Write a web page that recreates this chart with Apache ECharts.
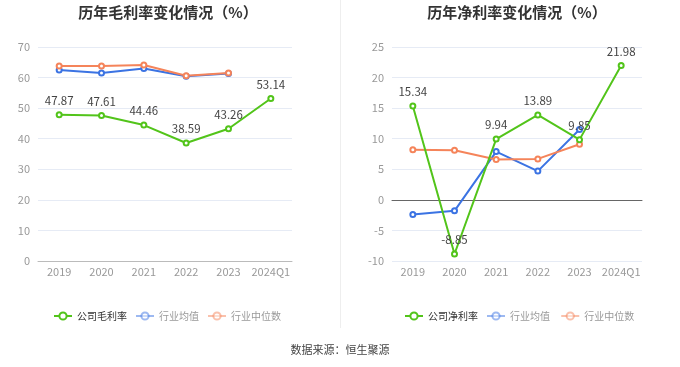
<!DOCTYPE html>
<html><head><meta charset="utf-8">
<script src="https://cdn.jsdelivr.net/npm/echarts@6/dist/echarts.min.js"></script>
<style>html,body{margin:0;padding:0;background:#fff}#c{width:680px;height:367px}</style>
</head><body><div id="c"></div>
<script>
var categories = ['2019','2020','2021','2022','2023','2024Q1'];
var grossCompany = [47.87, 47.61, 44.46, 38.59, 43.26, 53.14];
var grossIndustryAvg = [62.5, 61.5, 63.0, 60.4, 61.3, null];
var grossIndustryMedian = [63.8, 63.8, 64.1, 60.6, 61.5, null];
var netCompany = [15.34, -8.85, 9.94, 13.89, 9.85, 21.98];
var netIndustryAvg = [-2.4, -1.8, 7.9, 4.7, 11.5, null];
var netIndustryMedian = [8.2, 8.1, 6.6, 6.7, 9.1, null];

var GREEN = '#52c41a', BLUE = '#3b73e3', ORANGE = '#f5845a';
var font = 'Noto Sans CJK SC';
var chart = echarts.init(document.getElementById('c'));
function xAxis(idx){
  return {type:'category', gridIndex:idx, data:categories, boundaryGap:true,
    axisLine:{onZero:true, lineStyle:{color: idx===0 ? '#bbb' : '#666'}},
    axisTick:{alignWithLabel:true, lineStyle:{color:'#999'}},
    axisLabel:{color:'#999', fontSize:11, fontFamily:font, margin:5, interval:0}};
}
function yAxis(idx, min, max, interval){
  return {type:'value', gridIndex:idx, min:min, max:max, interval:interval,
    axisLine:{show:false}, axisTick:{show:false},
    axisLabel:{color:'#999', fontSize:11, fontFamily:font},
    splitLine:{lineStyle:{color:'#e6ebf5'}}};
}
function line(name, data, color, idx, showLabel){
  return {name:name, type:'line', xAxisIndex:idx, yAxisIndex:idx, data:data,
    symbol:'emptyCircle', symbolSize:5, lineStyle:{width:2, color:color},
    itemStyle:{color:color, borderWidth:1.5},
    label:{show:showLabel, position:'top', distance:5, color:'#444', fontSize:11.5, fontFamily:font},
    z: showLabel ? 3 : 2};
}
function legendItems(first, suffix){
  return [
    {name:first, textStyle:{color:'#333'}},
    {name:'行业均值'+suffix, itemStyle:{opacity:0.5}, lineStyle:{opacity:0.5}},
    {name:'行业中位数'+suffix, itemStyle:{opacity:0.5}, lineStyle:{opacity:0.5}}
  ];
}
var legendBase = {top:306, itemWidth:18, itemHeight:9, itemGap:8,
  textStyle:{fontSize:10, fontFamily:font, color:'#999'}};
chart.setOption({
  animation:false,
  title:[
    {text:'历年毛利率变化情况（%）', left:163, top:0, textAlign:'center', textStyle:{fontSize:15, fontWeight:'bold', color:'#333', fontFamily:font}},
    {text:'历年净利率变化情况（%）', left:512, top:0, textAlign:'center', textStyle:{fontSize:15, fontWeight:'bold', color:'#333', fontFamily:font}}
  ],
  legend:[
    Object.assign({data:legendItems('公司毛利率',''), left:48}, legendBase),
    Object.assign({data:legendItems('公司净利率',' '), left:399}, legendBase)
  ],
  grid:[
    {left:38, top:47, width:254, height:214},
    {left:392, top:47, width:250, height:214}
  ],
  xAxis:[xAxis(0), xAxis(1)],
  yAxis:[yAxis(0,0,70,10), yAxis(1,-10,25,5)],
  series:[
    line('公司毛利率', grossCompany, GREEN, 0, true),
    line('行业均值', grossIndustryAvg, BLUE, 0, false),
    line('行业中位数', grossIndustryMedian, ORANGE, 0, false),
    line('公司净利率', netCompany, GREEN, 1, true),
    line('行业均值 ', netIndustryAvg, BLUE, 1, false),
    line('行业中位数 ', netIndustryMedian, ORANGE, 1, false)
  ],
  graphic:[
    {type:'line', shape:{x1:340.5, y1:0, x2:340.5, y2:328}, style:{stroke:'#eee', lineWidth:1}},
    {type:'text', left:'center', top:344, style:{text:'数据来源：恒生聚源', fontSize:11, fontFamily:font, fill:'#444'}}
  ]
});
</script></body></html>
